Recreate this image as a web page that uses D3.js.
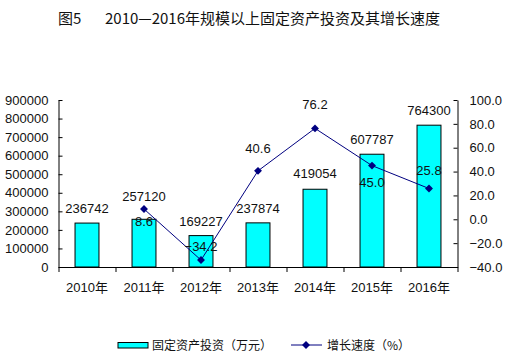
<!DOCTYPE html>
<html>
<head>
<meta charset="utf-8">
<script src="https://cdn.jsdelivr.net/npm/d3@7"></script>
<style>
  body { margin: 0; background: #fff; }
  text { font-family: "Liberation Sans", Arial, sans-serif; fill: #111; }
  .cjk { font-family: "Noto Sans CJK SC", sans-serif; }
  .domain, .tick line { stroke: #000; }
</style>
</head>
<body>
<div id="grafica"></div>
<script>
// datos
years = ['2010年', '2011年', '2012年', '2013年', '2014年', '2015年', '2016年']
investment = [236742, 257120, 169227, 237874, 419054, 607787, 764300]
growth = [null, 8.6, -34.2, 40.6, 76.2, 45.0, 25.8]
leftTicks = [0, 100000, 200000, 300000, 400000, 500000, 600000, 700000, 800000, 900000]
rightTicks = [-40, -20, 0, 20, 40, 60, 80, 100]

// ajustes de etiquetas (estilo)
barLabelLift = [10, 18, 10, 10, 11, 10, 10]
lineLabelDy = [0, 17, -9, -18, -19, 21, -14]

ancho_total = 509
alto_total = 364
const plotLeft = 58.5, plotRight = 457.5, plotTop = 100, plotBottom = 267

svg = d3.select('#grafica')
  .append('svg')
  .attr('width', ancho_total)
  .attr('height', alto_total)

// titulo
svg.append('text').attr('class', 'cjk')
  .attr('x', 58).attr('y', 24)
  .attr('font-size', '15px').text('图5')
svg.append('text').attr('class', 'cjk')
  .attr('x', 105).attr('y', 24)
  .attr('font-size', '15px').text('2010—2016年规模以上固定资产投资及其增长速度')

x = d3.scaleBand().domain(years).range([plotLeft, plotRight]).paddingInner(0.58).paddingOuter(0.29)
y = d3.scaleLinear().domain([0, 900000]).range([plotBottom, plotTop])
y2 = d3.scaleLinear().domain([-40, 100]).range([plotBottom, plotTop])
xb = d3.scaleLinear().domain([0, years.length]).range([plotLeft, plotRight])

// barras
svg.selectAll('rect.bar')
  .data(investment)
  .enter()
  .append('rect')
  .attr('class', 'bar')
  .attr('x', (d, i) => x(years[i]))
  .attr('y', (d) => y(d))
  .attr('width', x.bandwidth())
  .attr('height', (d) => y(0) - y(d))
  .attr('fill', '#00FFFF')
  .attr('stroke', '#000')
  .attr('stroke-width', 1)

svg.selectAll('text.barlab')
  .data(investment)
  .enter()
  .append('text')
  .attr('class', 'barlab')
  .attr('x', (d, i) => x(years[i]) + x.bandwidth() / 2)
  .attr('y', (d, i) => y(d) - barLabelLift[i])
  .attr('text-anchor', 'middle')
  .attr('font-size', '13px')
  .text((d) => d)

// ejes
yAxis = svg.append('g')
  .attr('transform', `translate(${plotLeft},0)`)
  .call(d3.axisLeft(y).tickValues(leftTicks).tickSize(-4).tickSizeOuter(0).tickPadding(10)
    .tickFormat(d3.format('d')))
y2Axis = svg.append('g')
  .attr('transform', `translate(${plotRight},0)`)
  .call(d3.axisRight(y2).tickValues(rightTicks).tickSize(-4).tickSizeOuter(0).tickPadding(12)
    .tickFormat(d3.format('.1f')))
;[yAxis, y2Axis].forEach((g) => g.selectAll('text')
  .attr('font-size', '13px').style('font-family', '"Liberation Sans", Arial, sans-serif').attr('fill', '#111'))

xAxis = svg.append('g')
  .attr('transform', `translate(0,${plotBottom})`)
  .call(d3.axisBottom(x).tickSize(0).tickPadding(16))
xAxis.selectAll('text')
  .attr('font-size', '13px').attr('fill', '#111')
  .style('font-family', '"Liberation Sans", "Noto Sans CJK SC", sans-serif')
svg.append('g')
  .attr('transform', `translate(0,${plotBottom})`)
  .call(d3.axisBottom(xb).ticks(years.length).tickSize(5).tickFormat(''))
  .select('.domain').remove()

// linea de crecimiento
pts = growth.map((d, i) => ({ year: years[i], v: d, i: i })).filter((d) => d.v !== null)
cx = (d) => x(d.year) + x.bandwidth() / 2
linea = d3.line().x(cx).y((d) => y2(d.v))
svg.append('path')
  .datum(pts)
  .attr('d', linea)
  .attr('fill', 'none')
  .attr('stroke', '#000080')
  .attr('stroke-width', 1)

diamond = d3.symbol().type(d3.symbolDiamond2).size(40)
svg.selectAll('path.pt')
  .data(pts)
  .enter()
  .append('path')
  .attr('class', 'pt')
  .attr('d', diamond)
  .attr('transform', (d) => `translate(${cx(d)},${y2(d.v)})`)
  .attr('fill', '#000080')

svg.selectAll('text.linelab')
  .data(pts)
  .enter()
  .append('text')
  .attr('class', 'linelab')
  .attr('x', cx)
  .attr('y', (d) => y2(d.v) + lineLabelDy[d.i])
  .attr('text-anchor', 'middle')
  .attr('font-size', '13px')
  .text((d) => d3.format('.1f')(d.v))

// leyenda
lg = svg.append('g')
lg.append('rect')
  .attr('x', 118).attr('y', 342.5).attr('width', 30).attr('height', 5.5)
  .attr('fill', '#00FFFF').attr('stroke', '#000')
lg.append('text').attr('class', 'cjk')
  .attr('x', 152).attr('y', 350).attr('font-size', '12px')
  .text('固定资产投资（万元）')
lg.append('line')
  .attr('x1', 291).attr('x2', 322).attr('y1', 345).attr('y2', 345)
  .attr('stroke', '#000080')
lg.append('path')
  .attr('d', diamond)
  .attr('transform', 'translate(306,345)')
  .attr('fill', '#000080')
lg.append('text').attr('class', 'cjk')
  .attr('x', 327).attr('y', 350).attr('font-size', '12px')
  .text('增长速度（%）')
</script>
</body>
</html>
